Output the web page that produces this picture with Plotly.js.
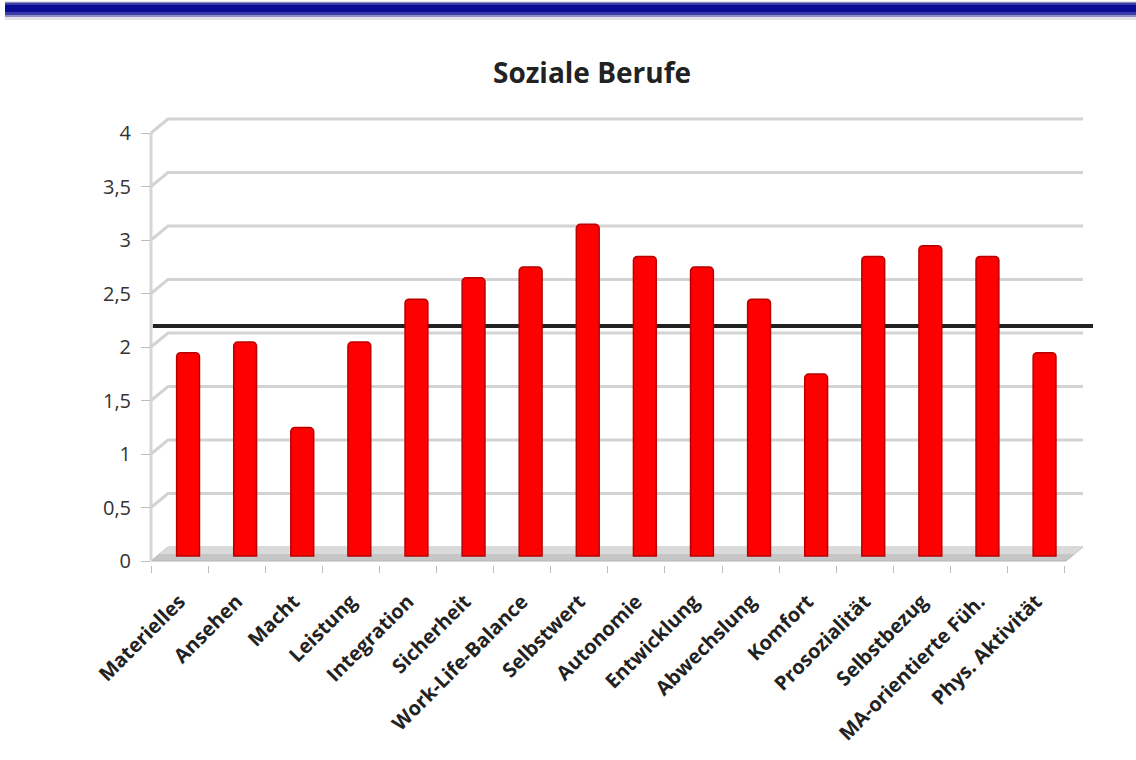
<!DOCTYPE html>
<html>
<head>
<meta charset="utf-8">
<script src="https://cdn.plot.ly/plotly-3.0.1.min.js"></script>
<style>
  html, body { margin: 0; padding: 0; background: #ffffff; }
  #chart { width: 1136px; height: 760px; }
</style>
</head>
<body>
<div id="chart"></div>
<script>
// Werteprofil "Soziale Berufe": mittlere Ausprägung je Dimension
const categories = [
  'Materielles', 'Ansehen', 'Macht', 'Leistung', 'Integration', 'Sicherheit',
  'Work-Life-Balance', 'Selbstwert', 'Autonomie', 'Entwicklung', 'Abwechslung',
  'Komfort', 'Prosozialität', 'Selbstbezug', 'MA-orientierte Füh.', 'Phys. Aktivität'
];
const values = [1.9, 2.0, 1.2, 2.0, 2.4, 2.6, 2.7, 3.1, 2.8, 2.7, 2.4, 1.7, 2.8, 2.9, 2.8, 1.9];
const referenceLevel = 2.15;               // horizontale Vergleichslinie
const yTicks = [0, 0.5, 1, 1.5, 2, 2.5, 3, 3.5, 4];
const chartTitle = 'Soziale Berufe';

// Seitengeometrie (Pixel)
const W = 1136, H = 760;
const M = { l: 151, r: 46, t: 115, b: 195 };
const plotW = W - M.l - M.r, plotH = H - M.t - M.b;
const pxPerUnit = 107;          // vertikaler Maßstab
const pxPerCat = 57.1;          // Kategorienabstand
const depthX = 17, depthY = 14; // Tiefenversatz der Rückwand (Pseudo-3D)
const barShift = 8.5;           // Säulen stehen in der Mitte der Tiefe

// Achsenbereiche so gewählt, dass Vorderkante, Säulenebene und Rückwand übereinander liegen
const frontZeroPx = 561;        // Vorderkante (Beschriftung)
const barZeroPx = frontZeroPx - 5;
const yRangeFront = [(frontZeroPx - (H - M.b)) / pxPerUnit, (frontZeroPx - M.t) / pxPerUnit];
const yRangeBars = [(barZeroPx - (H - M.b)) / pxPerUnit, (barZeroPx - M.t) / pxPerUnit];
const catSpan = plotW / pxPerCat;
const xRangeFront = [-0.5, -0.5 + catSpan];
const xRangeBars = [-0.5 - barShift / pxPerCat, -0.5 - barShift / pxPerCat + catSpan];

const dxPaper = depthX / plotW;
const dzUnits = depthY / pxPerUnit;
const backRight = 1 - 7 / plotW;
const pxToPaperY = py => (H - M.b - py) / plotH;
const pxToPaperX = px => (px - M.l) / plotW;

const shapes = [];

// Kopfbalken (blauer Verlauf)
[
  { y0: 1, y1: 20, c: 'rgba(190,190,205,0.45)' },
  { y0: 2, y1: 17, c: '#8f8fc4' },
  { y0: 3, y1: 15, c: '#3a3aa8' },
  { y0: 5, y1: 12, c: '#0b0b94' }
].forEach(b => shapes.push({
  type: 'rect', xref: 'paper', yref: 'paper', layer: 'above',
  x0: pxToPaperX(5), x1: pxToPaperX(W), y0: pxToPaperY(b.y1), y1: pxToPaperY(b.y0),
  line: { width: 0 }, fillcolor: b.c
}));

// Boden
shapes.push({
  type: 'path', xref: 'paper', yref: 'y2', layer: 'below',
  path: `M 0,0 L ${dxPaper},${dzUnits} L ${backRight},${dzUnits} L ${backRight - dxPaper},0 Z`,
  fillcolor: '#c6c6c6', line: { color: '#b4b4b4', width: 1 }
});
shapes.push({
  type: 'path', xref: 'paper', yref: 'y2', layer: 'below',
  path: `M ${dxPaper * 0.5},${dzUnits * 0.5} L ${dxPaper},${dzUnits} L ${backRight},${dzUnits} L ${backRight - dxPaper * 0.5},${dzUnits * 0.5} Z`,
  fillcolor: '#dadada', line: { width: 0 }
});

// Seitenwand-Kante
shapes.push({
  type: 'line', xref: 'paper', yref: 'y2', layer: 'below',
  x0: 0, x1: 0, y0: 0, y1: yTicks[yTicks.length - 1],
  line: { color: '#d6d6d6', width: 3 }
});

// Gitterlinien der Rückwand mit schrägem Anschluss an die Achse
yTicks.slice(1).forEach(v => shapes.push({
  type: 'path', xref: 'paper', yref: 'y2', layer: 'below',
  path: `M 0,${v} L ${dxPaper},${v + dzUnits} L ${backRight},${v + dzUnits}`,
  line: { color: '#d3d3d3', width: 3 }
}));

// Vergleichslinie
shapes.push({
  type: 'line', xref: 'paper', yref: 'y', layer: 'below',
  x0: 0.002, x1: pxToPaperX(1093), y0: referenceLevel, y1: referenceLevel,
  line: { color: '#222222', width: 4 }
});

const bars = {
  type: 'bar', x: categories, y: values, xaxis: 'x', yaxis: 'y',
  width: 0.4,
  marker: { color: '#ff0000', line: { color: '#b80000', width: 1.5 }, cornerradius: 4 },
  hoverinfo: 'x+y'
};

// unsichtbare Spur, damit die Vorderachse die Kategorien trägt
const frontAxisCarrier = {
  type: 'scatter', mode: 'markers', x: categories, y: categories.map(() => 0),
  xaxis: 'x2', yaxis: 'y2', marker: { opacity: 0 }, hoverinfo: 'skip', showlegend: false
};

const font = 'Open Sans, Liberation Sans, sans-serif';

const layout = {
  width: W, height: H,
  margin: M,
  paper_bgcolor: '#ffffff', plot_bgcolor: 'rgba(0,0,0,0)',
  separators: ',.',
  showlegend: false,
  font: { family: font, color: '#222222' },
  title: {
    text: chartTitle,
    font: { family: font, size: 28, weight: 'bold', color: '#222222' },
    xref: 'container', x: 592 / W, xanchor: 'center',
    yref: 'container', y: 1 - 73 / H, yanchor: 'middle'
  },
  xaxis: {
    type: 'category', categoryorder: 'array', categoryarray: categories,
    range: xRangeBars, showticklabels: false, ticks: '', showgrid: false,
    zeroline: false, showline: false, fixedrange: true
  },
  yaxis: {
    range: yRangeBars, showticklabels: false, ticks: '', showgrid: false,
    zeroline: false, showline: false, fixedrange: true
  },
  xaxis2: {
    type: 'category', categoryorder: 'array', categoryarray: categories,
    overlaying: 'x', anchor: 'y2', side: 'bottom',
    range: xRangeFront, tickangle: -45, tickson: 'boundaries',
    ticks: 'outside', ticklen: 7, tickwidth: 1, tickcolor: '#bdbdbd',
    ticklabelstandoff: 20,
    tickfont: { family: font, size: 20, weight: 'bold', color: '#222222' },
    showgrid: false, zeroline: false, showline: false, fixedrange: true
  },
  yaxis2: {
    overlaying: 'y', anchor: 'x2', side: 'left',
    range: yRangeFront, tickvals: yTicks,
    ticks: 'outside', ticklen: 9, tickwidth: 1, tickcolor: '#bdbdbd',
    ticklabelstandoff: 6,
    tickfont: { family: font, size: 20, color: '#333333' },
    showgrid: false, zeroline: false, showline: false, fixedrange: true
  },
  shapes: shapes
};

Plotly.newPlot('chart', [bars, frontAxisCarrier], layout, { displayModeBar: false, staticPlot: true });
</script>
</body>
</html>
